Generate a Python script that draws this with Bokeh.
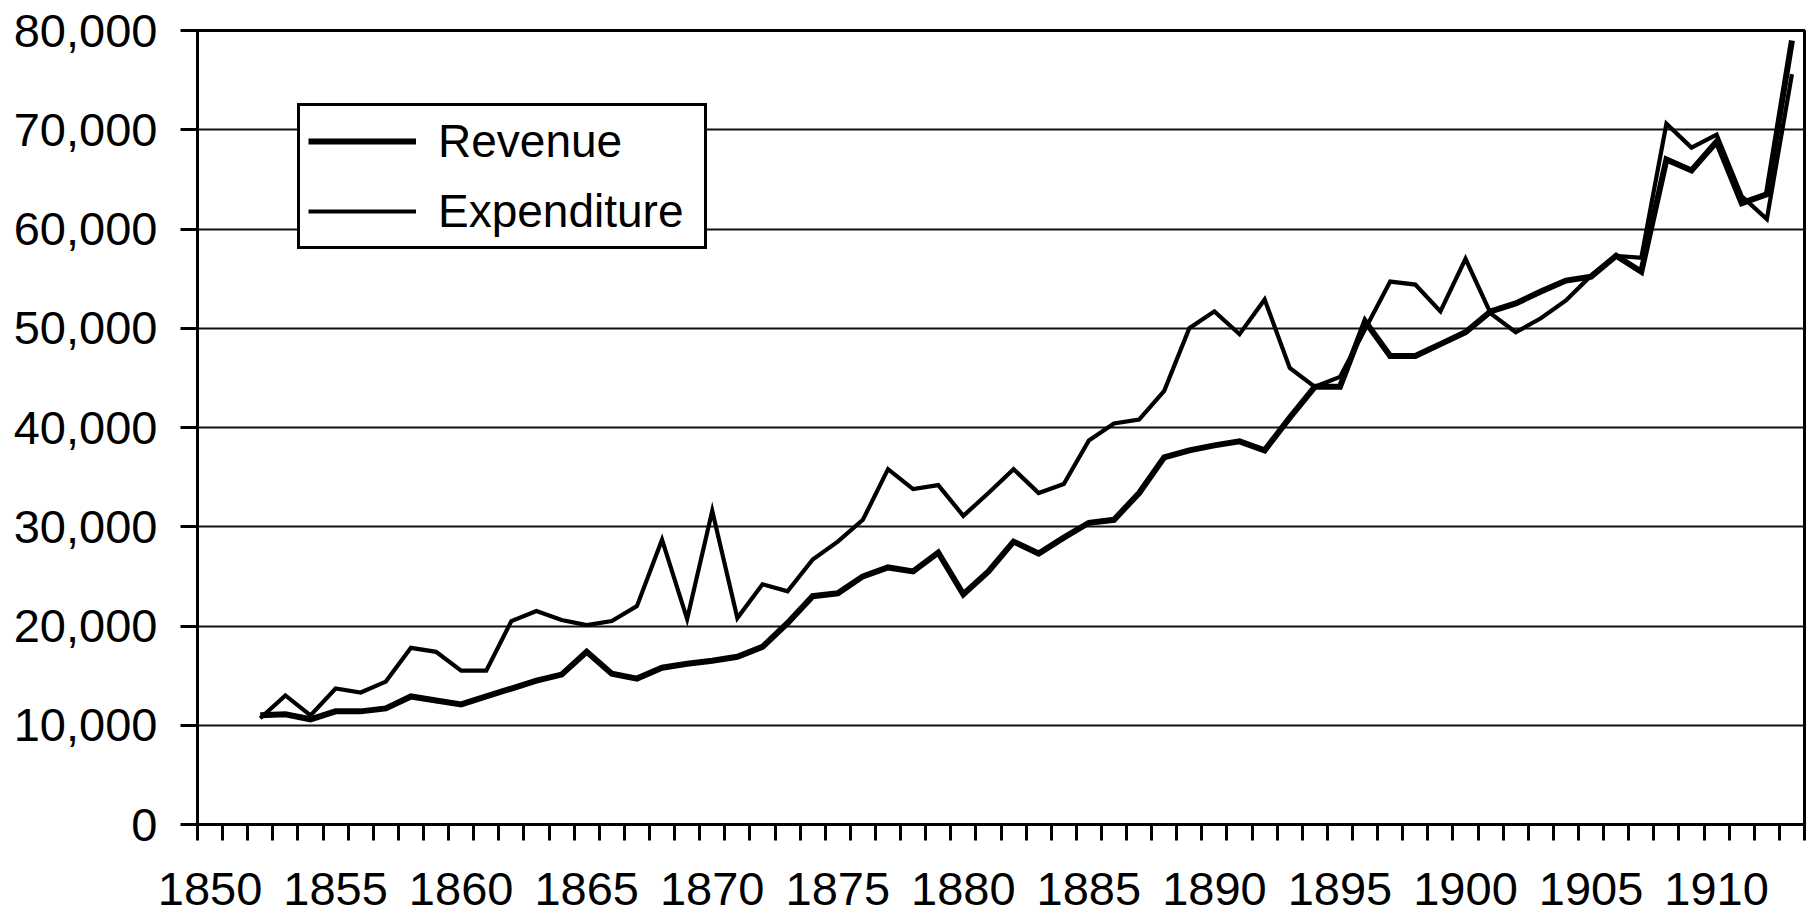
from bokeh.plotting import figure
from bokeh.models import (Range1d, FixedTicker, NumeralTickFormatter, BasicTickFormatter,
                          Legend, LegendItem)
from bokeh.embed import file_html
from bokeh.resources import INLINE

# ---- data -------------------------------------------------------------
years = list(range(1852, 1914))
revenue = [11000, 11100, 10600, 11400, 11400, 11700, 12900, 12500, 12100, 12900,
           13700, 14500, 15100, 17400, 15200, 14700, 15800, 16200, 16500, 16900,
           17900, 20300, 23000, 23300, 25000, 25900, 25500, 27400, 23200, 25500,
           28500, 27300, 28900, 30400, 30700, 33400, 37000, 37700, 38200, 38600,
           37700, 41000, 44100, 44100, 50700, 47200, 47200, 48400, 49600, 51700,
           52500, 53700, 54800, 55200, 57300, 55700, 67000, 65900, 68800, 62600,
           63500, 79000]
expenditure = [10700, 13000, 11000, 13700, 13300, 14400, 17800, 17400, 15500, 15500,
               20500, 21500, 20600, 20100, 20500, 22000, 28700, 20700, 31600, 20800,
               24200, 23500, 26700, 28500, 30700, 35800, 33800, 34200, 31100, 33400,
               35800, 33400, 34300, 38700, 40400, 40800, 43700, 50000, 51700, 49400,
               52900, 46000, 44100, 45100, 49900, 54700, 54400, 51700, 57000, 51500,
               49600, 51000, 52800, 55300, 57300, 57100, 70600, 68200, 69500, 63300,
               61000, 75600]
first_year, last_year = 1850, 1913
x_label_years = list(range(1850, 1911, 5))
y_ticks = list(range(0, 80001, 10000))
series_names = ["Revenue", "Expenditure"]

FONT = "Liberation Sans"

p = figure(width=1814, height=913, output_backend="svg", toolbar_location=None,
           x_range=Range1d(first_year - 0.5, last_year + 0.5),
           y_range=Range1d(0, 80000),
           min_border_left=197, min_border_right=10, min_border_top=30,
           min_border_bottom=89)

p.background_fill_color = "white"
p.border_fill_color = "white"
p.outline_line_color = "black"
p.outline_line_width = 3

# y axis
p.yaxis.ticker = FixedTicker(ticks=y_ticks)
p.yaxis.formatter = NumeralTickFormatter(format="0,0")
p.yaxis.major_label_text_font = FONT
p.yaxis.major_label_text_font_size = "47px"
p.yaxis.major_label_text_color = "black"
p.yaxis.major_label_standoff = 23
p.yaxis.major_tick_out = 17
p.yaxis.major_tick_in = 0
p.yaxis.major_tick_line_width = 3
p.yaxis.major_tick_line_color = "black"
p.yaxis.minor_tick_line_color = None
p.yaxis.axis_line_width = 3
p.yaxis.axis_line_color = "black"

# x axis: labels at slot centres, ticks at slot boundaries
p.xaxis.ticker = FixedTicker(ticks=x_label_years,
                             minor_ticks=[y - 0.5 for y in range(first_year, last_year + 2)])
p.xaxis.formatter = BasicTickFormatter(use_scientific=False)
p.xaxis.major_label_text_font = FONT
p.xaxis.major_label_text_font_size = "47px"
p.xaxis.major_label_text_color = "black"
p.xaxis.major_label_standoff = 32
p.xaxis.major_tick_out = 0
p.xaxis.major_tick_in = 0
p.xaxis.major_tick_line_color = None
p.xaxis.minor_tick_out = 16
p.xaxis.minor_tick_in = 0
p.xaxis.minor_tick_line_width = 3
p.xaxis.minor_tick_line_color = "black"
p.xaxis.axis_line_width = 3
p.xaxis.axis_line_color = "black"

p.xgrid.visible = False
p.ygrid.ticker = FixedTicker(ticks=y_ticks)
p.ygrid.grid_line_color = "#111111"
p.ygrid.grid_line_width = 2

r_rev = p.line(years, revenue, line_width=6, line_color="black", line_join="miter")
r_exp = p.line(years, expenditure, line_width=4.2, line_color="black", line_join="miter")

legend = Legend(items=[LegendItem(label=series_names[0], renderers=[r_rev]),
                       LegendItem(label=series_names[1], renderers=[r_exp])],
                location=(100, 575), margin=0, padding=8, spacing=16,
                glyph_width=108, label_standoff=22, label_width=258,
                label_text_font=FONT, label_text_font_size="46px",
                label_text_color="black",
                border_line_color="black", border_line_width=3, border_line_alpha=1.0,
                background_fill_color="white", background_fill_alpha=1.0)
p.add_layout(legend)

open("out.html", "w").write(file_html(p, INLINE))
